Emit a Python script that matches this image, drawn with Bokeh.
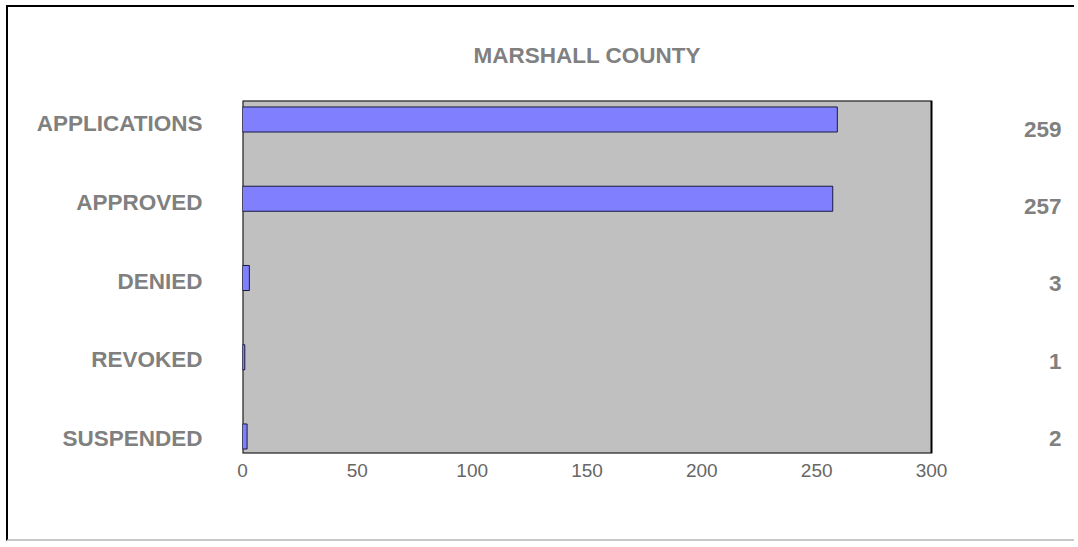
from bokeh.plotting import figure
from bokeh.models import Range1d, FixedTicker, LinearAxis, BoxAnnotation
from bokeh.core.properties import value
from bokeh.embed import file_html
from bokeh.resources import INLINE

title_text = "MARSHALL COUNTY"
categories = ["APPLICATIONS", "APPROVED", "DENIED", "REVOKED", "SUSPENDED"]
counts = [259, 257, 3, 1, 2]
x_ticks = [0, 50, 100, 150, 200, 250, 300]

FONT = "Liberation Sans"
GRAY = "#808080"
LABEL_SIZE = "22.5px"

idx = list(range(len(categories)))
val_y = [0.126 + 0.9748 * i for i in idx]

# canvas: 1068 x 536, frame 234..1062 (x), 93..446 (y)
p = figure(width=1068, height=536, output_backend="svg", toolbar_location=None,
           x_range=Range1d(0, 360.52), y_range=Range1d(4.2145, -0.2397),
           y_axis_location=None, min_border_left=234, min_border_right=6,
           min_border_top=93, min_border_bottom=90,
           title=title_text)
p.styles = {"margin-left": "6px", "margin-top": "5px",
            "border-left": "2px solid #000000", "border-top": "2px solid #000000",
            "border-bottom": "2px solid #c8c8c8"}

p.extra_y_ranges = {"cat": Range1d(4.197, -0.299)}

p.background_fill_color = "white"
p.border_fill_color = "white"
p.outline_line_color = None
p.grid.visible = False

# plot area (0..300 on the value axis)
p.add_layout(BoxAnnotation(left=x_ticks[0], right=x_ticks[-1], level="underlay",
                           fill_color="#c0c0c0", fill_alpha=1.0,
                           line_color="black", line_width=2, line_alpha=1.0))

p.hbar(y=idx, left=0, right=counts, height=0.316,
       fill_color="#8080ff", line_color="#1a1a40", line_width=1)

p.text(x=[356.6] * len(idx), y=val_y, text=[str(c) for c in counts],
       text_align="right", text_baseline="middle",
       text_font=value(FONT), text_font_size=LABEL_SIZE,
       text_font_style="bold", text_color=GRAY)

ax = p.xaxis[0]
ax.ticker = FixedTicker(ticks=x_ticks)
ax.axis_line_color = None
ax.major_tick_line_color = None
ax.minor_tick_line_color = None
ax.major_tick_out = 0
ax.major_label_standoff = 10
ax.major_label_text_font = FONT
ax.major_label_text_font_size = "19px"
ax.major_label_text_color = "#666666"

cat_axis = LinearAxis(y_range_name="cat")
cat_axis.ticker = FixedTicker(ticks=idx)
cat_axis.major_label_overrides = {i: lab for i, lab in zip(idx, categories)}
cat_axis.axis_line_color = None
cat_axis.major_tick_line_color = None
cat_axis.minor_tick_line_color = None
cat_axis.major_tick_out = 0
cat_axis.major_tick_in = 0
cat_axis.major_label_standoff = 40
cat_axis.major_label_text_font = FONT
cat_axis.major_label_text_font_size = LABEL_SIZE
cat_axis.major_label_text_font_style = "bold"
cat_axis.major_label_text_color = GRAY
p.add_layout(cat_axis, "left")

p.title.align = "left"
p.title.offset = 231
p.title.text_font = FONT
p.title.text_font_size = LABEL_SIZE
p.title.text_font_style = "bold"
p.title.text_color = GRAY
p.title.standoff = 66

open("out.html", "w").write(file_html(p, INLINE))
